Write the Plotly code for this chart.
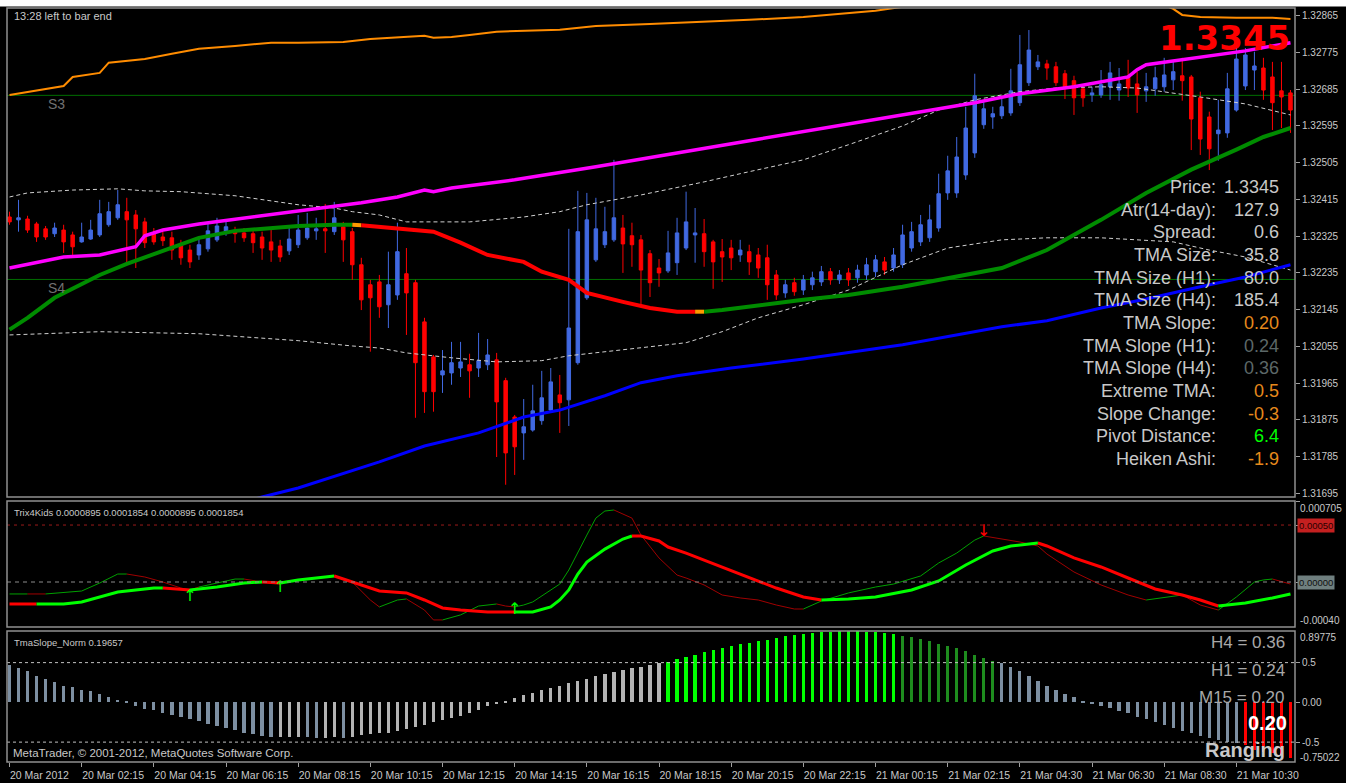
import plotly.graph_objects as go

# ---------------- data ----------------
bars = list(range(143))

opens = [1.32372,1.32365,1.32367,1.32355,1.32343,1.32331,1.32340,1.32328,1.32311,1.32318,
         1.32328,1.32353,1.32370,1.32385,1.32377,1.32360,1.32333,1.32323,1.32321,1.32304,
         1.32291,1.32279,1.32294,1.32316,1.32333,1.32338,1.32333,1.32331,1.32323,1.32311,
         1.32301,1.32289,1.32304,1.32321,1.32338,1.32343,1.32336,1.32348,1.32336,1.32255,
         1.32206,1.32213,1.32157,1.32181,1.32233,1.32211,1.32115,1.32029,1.31985,1.31990,
         1.32002,1.32010,1.32002,1.32010,1.32022,1.31971,1.31882,1.31843,1.31850,1.31873,
         1.31899,1.31936,1.31924,1.32015,1.32174,1.32267,1.32304,1.32316,1.32345,1.32326,
         1.32316,1.32282,1.32247,1.32240,1.32260,1.32296,1.32328,1.32331,1.32311,1.32287,
         1.32296,1.32279,1.32287,1.32279,1.32272,1.32230,1.32186,1.32211,1.32193,1.32206,
         1.32213,1.32238,1.32218,1.32235,1.32223,1.32230,1.32238,1.32262,1.32247,1.32255,
         1.32296,1.32311,1.32321,1.32345,1.32431,1.32431,1.32475,1.32529,1.32598,1.32617,
         1.32620,1.32627,1.32652,1.32701,1.32740,1.32747,1.32740,1.32723,1.32706,1.32686,
         1.32671,1.32671,1.32691,1.32683,1.32715,1.32698,1.32681,1.32686,1.32691,1.32708,
         1.32718,1.32715,1.32664,1.32617,1.32576,1.32578,1.32634,1.32693,1.32732,1.32737,
         1.32715,1.32681,1.32676]
highs = [1.32385,1.32414,1.32375,1.32360,1.32350,1.32358,1.32353,1.32336,1.32358,1.32365,
         1.32414,1.32409,1.32438,1.32419,1.32389,1.32370,1.32345,1.32336,1.32336,1.32316,
         1.32304,1.32321,1.32360,1.32370,1.32360,1.32348,1.32345,1.32343,1.32336,1.32340,
         1.32316,1.32348,1.32377,1.32382,1.32370,1.32404,1.32409,1.32360,1.32345,1.32272,
         1.32218,1.32230,1.32287,1.32358,1.32296,1.32218,1.32125,1.32034,1.32046,1.32066,
         1.32066,1.32037,1.32088,1.32073,1.32039,1.31978,1.31887,1.31926,1.31961,1.31995,
         1.32002,1.31985,1.32343,1.32436,1.32431,1.32419,1.32397,1.32512,1.32377,1.32358,
         1.32328,1.32291,1.32269,1.32338,1.32370,1.32434,1.32394,1.32367,1.32316,1.32318,
         1.32316,1.32316,1.32304,1.32296,1.32304,1.32242,1.32218,1.32223,1.32230,1.32238,
         1.32252,1.32247,1.32242,1.32247,1.32255,1.32272,1.32279,1.32274,1.32296,1.32353,
         1.32360,1.32377,1.32402,1.32478,1.32522,1.32568,1.32642,1.32723,1.32654,1.32642,
         1.32661,1.32735,1.32818,1.32830,1.32769,1.32757,1.32752,1.32732,1.32718,1.32696,
         1.32691,1.32732,1.32752,1.32737,1.32757,1.32728,1.32725,1.32740,1.32762,1.32757,
         1.32762,1.32720,1.32679,1.32630,1.32659,1.32725,1.32801,1.32786,1.32777,1.32762,
         1.32752,1.32752,1.32683]
lows = [1.32353,1.32336,1.32333,1.32311,1.32316,1.32323,1.32284,1.32279,1.32309,1.32316,
        1.32323,1.32348,1.32365,1.32255,1.32247,1.32296,1.32304,1.32301,1.32267,1.32255,
        1.32247,1.32267,1.32287,1.32311,1.32326,1.32309,1.32311,1.32284,1.32267,1.32262,
        1.32262,1.32279,1.32296,1.32316,1.32316,1.32284,1.32328,1.32262,1.32218,1.32144,
        1.32042,1.32125,1.32100,1.32169,1.32083,1.31880,1.31892,1.31895,1.31941,1.31961,
        1.31980,1.31929,1.31980,1.31997,1.31784,1.31716,1.31740,1.31777,1.31846,1.31863,
        1.31895,1.31843,1.31860,1.32010,1.32169,1.32262,1.32296,1.32311,1.32235,1.32250,
        1.32154,1.32176,1.32201,1.32235,1.32230,1.32291,1.32260,1.32250,1.32196,1.32213,
        1.32242,1.32262,1.32230,1.32223,1.32169,1.32169,1.32174,1.32179,1.32181,1.32193,
        1.32203,1.32206,1.32208,1.32203,1.32211,1.32218,1.32225,1.32230,1.32238,1.32247,
        1.32287,1.32301,1.32311,1.32336,1.32414,1.32419,1.32463,1.32517,1.32588,1.32588,
        1.32612,1.32620,1.32644,1.32693,1.32732,1.32708,1.32693,1.32661,1.32622,1.32642,
        1.32654,1.32664,1.32659,1.32657,1.32666,1.32627,1.32654,1.32669,1.32679,1.32683,
        1.32657,1.32536,1.32524,1.32487,1.32510,1.32566,1.32630,1.32683,1.32683,1.32659,
        1.32585,1.32590,1.32578]
closes = [1.32360,1.32370,1.32340,1.32323,1.32323,1.32345,1.32311,1.32299,1.32323,1.32340,
          1.32380,1.32385,1.32402,1.32365,1.32343,1.32309,1.32311,1.32314,1.32291,1.32272,
          1.32262,1.32304,1.32338,1.32350,1.32348,1.32331,1.32321,1.32309,1.32296,1.32291,
          1.32274,1.32318,1.32340,1.32345,1.32343,1.32338,1.32370,1.32316,1.32255,1.32169,
          1.32174,1.32152,1.32206,1.32287,1.32186,1.32015,1.31944,1.31944,1.31995,1.32015,
          1.32017,1.31995,1.32020,1.32034,1.31919,1.31794,1.31809,1.31858,1.31897,1.31929,
          1.31968,1.31917,1.32100,1.32336,1.32365,1.32343,1.32336,1.32370,1.32306,1.32304,
          1.32242,1.32211,1.32235,1.32284,1.32333,1.32360,1.32333,1.32287,1.32262,1.32274,
          1.32272,1.32291,1.32262,1.32247,1.32206,1.32181,1.32206,1.32189,1.32218,1.32223,
          1.32238,1.32218,1.32230,1.32218,1.32242,1.32255,1.32267,1.32242,1.32279,1.32328,
          1.32336,1.32353,1.32365,1.32429,1.32485,1.32519,1.32590,1.32669,1.32637,1.32625,
          1.32642,1.32681,1.32745,1.32781,1.32752,1.32737,1.32701,1.32691,1.32664,1.32664,
          1.32676,1.32696,1.32725,1.32698,1.32688,1.32671,1.32691,1.32713,1.32720,1.32728,
          1.32706,1.32612,1.32563,1.32539,1.32585,1.32686,1.32759,1.32769,1.32742,1.32683,
          1.32652,1.32666,1.32634]

x_tick_bars = [0, 8, 16, 24, 32, 40, 48, 56, 64, 72, 80, 88, 96, 104, 112, 120, 128, 136]
x_tick_labels = ["20 Mar 2012", "20 Mar 02:15", "20 Mar 04:15", "20 Mar 06:15", "20 Mar 08:15",
                 "20 Mar 10:15", "20 Mar 12:15", "20 Mar 14:15", "20 Mar 16:15", "20 Mar 18:15",
                 "20 Mar 20:15", "20 Mar 22:15", "21 Mar 00:15", "21 Mar 02:15", "21 Mar 04:30",
                 "21 Mar 06:30", "21 Mar 08:30", "21 Mar 10:30"]
price_ticks = [1.32865, 1.32775, 1.32685, 1.32595, 1.32505, 1.32415, 1.32325,
               1.32235, 1.32145, 1.32055, 1.31965, 1.31875, 1.31785, 1.31695]

pivot_names = ["S3", "S4"]
pivot_levels = [1.32670, 1.32219]

orange_bars = [0,4,6,7,10,11,15,18,21,25, 29,32,37,40,44,46,47,49,51,54,
               61,65,71,77,82,88,93,96,99,104, 110,121,126,129,130,132,136,140,142]
orange_vals = [1.32671,1.32686,1.32693,1.32715,1.32725,1.32750,1.32759,1.32772,1.32784,1.32791,
               1.32799,1.32799,1.32801,1.32808,1.32813,1.32816,1.32811,1.32813,1.32818,1.32826,
               1.32831,1.32840,1.32845,1.32850,1.32855,1.32862,1.32872,1.32877,1.32887,1.32902,
               1.32914,1.32919,1.32909,1.32882,1.32867,1.32862,1.32860,1.32860,1.32857]

magenta_bars = [0,6,10,14,15,17,21,28,31,36, 39,43,46,47,49,56,65,82,99,107,
                112,118,124,125,126,132,137,142]
magenta_vals = [1.32247,1.32274,1.32279,1.32299,1.32326,1.32340,1.32355,1.32375,1.32382,1.32397,
                1.32407,1.32421,1.32438,1.32434,1.32443,1.32463,1.32495,1.32559,1.32622,1.32652,
                1.32674,1.32691,1.32715,1.32733,1.32745,1.32764,1.32779,1.32799]

tma_bars = [0,2,5,10,13,18,21,25,29,32, 36,38,39,41,47,50,53,57,59,62,
            64,68,71,74,76,77,79,88,93,99, 104,110,115,121,126,131,136,139,142]
tma_vals = [1.32096,1.32125,1.32174,1.32230,1.32257,1.32296,1.32321,1.32338,1.32345,1.32350,
            1.32353,1.32353,1.32352,1.32348,1.32336,1.32309,1.32279,1.32262,1.32238,1.32218,
            1.32186,1.32164,1.32149,1.32140,1.32140,1.32140,1.32144,1.32169,1.32181,1.32201,
            1.32223,1.32247,1.32291,1.32365,1.32431,1.32488,1.32537,1.32568,1.32590]
# trend of the TMA on each segment: 1 up, 0 flat, -1 down
tma_state = [1,1,1,1,1,1,1,1,1,1, 1,0,-1,-1,-1,-1,-1,-1,-1,-1,
             -1,-1,-1,-1,0,1,1,1,1,1, 1,1,1,1,1,1,1,1,1]

band_up_bars = [0,2,7,12,15,19,25,29,32,36, 38,41,44,51,57,61,64,70,77,82,
                88,93,99,103,107,112,116,121,125,132, 137,142]
band_up_vals = [1.32421,1.32431,1.32438,1.32441,1.32436,1.32434,1.32424,1.32412,1.32402,1.32394,
                1.32385,1.32377,1.32360,1.32360,1.32372,1.32385,1.32402,1.32426,1.32458,1.32483,
                1.32512,1.32549,1.32595,1.32634,1.32659,1.32679,1.32688,1.32691,1.32688,1.32666,
                1.32649,1.32622]
band_dn_bars = [0,10,21,32,38,41,44,49,54,59, 62,68,73,75,79,83,88,93,99,104,
                110,115,121,129,133,137,142]
band_dn_vals = [1.32083,1.32091,1.32086,1.32069,1.32056,1.32051,1.32039,1.32027,1.32017,1.32020,
                1.32032,1.32046,1.32059,1.32064,1.32091,1.32125,1.32157,1.32193,1.32255,1.32296,
                1.32316,1.32321,1.32321,1.32311,1.32291,1.32274,1.32242]

blue_bars = [20,27,28,32,37,41,46,52,57,61, 66,70,74,80,88,99,110,115,121,126,
             132,137,142]
blue_vals = [1.31637,1.31679,1.31686,1.31708,1.31743,1.31772,1.31811,1.31843,1.31882,1.31899,
             1.31934,1.31966,1.31983,1.32002,1.32024,1.32059,1.32103,1.32118,1.32149,1.32171,
             1.32201,1.32225,1.32255]

# Trix4Kids
trix_thin_bars = [0,2,4,8,10,12,13,15,17,19, 20,21,25,26,28,30,32,35,36,38,
                  40,41,43,44,46,47,48,50,52,54, 55,56,57,58,60,61,62,63,64,65,
                  66,67,69,70,72,74,75,77,79,81, 83,85,87,88,90,93,96,98,100,101,
                  103,105,107,108,110,112,114,115,116,118, 121,124,126,130,132,134,136,138,139,140,
                  142]
trix_thin_vals = [-0.000105,-0.000105,-0.000105,-0.000079,-0.000009,0.000070,0.000070,0.000044,0.0,-0.000053,
                  -0.000070,-0.000044,0.000026,0.000026,0.0,0.0,0.000018,0.000044,0.000053,0.0,
                  -0.000158,-0.000219,-0.000158,-0.000149,-0.000246,-0.000333,-0.000333,-0.000289,-0.000211,-0.000193,
                  -0.000211,-0.000219,-0.000202,-0.000175,-0.000070,-0.000018,0.000105,0.000263,0.000412,0.000561,
                  0.000623,0.000632,0.000561,0.000412,0.000211,0.000061,0.000035,-0.000026,-0.000114,-0.000140,
                  -0.000158,-0.000202,-0.000237,-0.000237,-0.000167,-0.000096,-0.000044,-0.000018,0.000026,0.000053,
                  0.000167,0.000254,0.000368,0.000404,0.000377,0.000351,0.000316,0.000246,0.000193,0.000088,
                  -0.000026,-0.000114,-0.000158,-0.000114,-0.000202,-0.000246,-0.000132,0.0,0.000018,0.000026,
                  -0.000018]
trix_thin_state = [1,-1,1,1,1,1,-1,-1,-1,-1, -1,1,1,-1,-1,1,1,1,-1,-1,
                   -1,1,1,-1,-1,-1,1,1,1,-1, -1,1,1,1,1,1,1,1,1,1,
                   1,-1,-1,-1,-1,-1,-1,-1,-1,-1, -1,-1,-1,1,1,1,1,1,1,1,
                   1,1,1,-1,-1,-1,-1,-1,-1,-1, -1,-1,1,-1,-1,1,1,1,1,-1,
                   -1]
trix_thick_bars = [0,3,6,8,10,12,16,17,19,20, 23,26,28,30,32,35,36,38,41,44,
                   46,48,50,53,56,58,60,61,62,63, 64,66,68,69,70,72,73,75,79,82,
                   85,88,90,93,96,100,103,106,109,111, 114,115,118,121,124,126,127,130,132,134,
                   137,140,142]
trix_thick_vals = [-0.000193,-0.000193,-0.000193,-0.000175,-0.000132,-0.000088,-0.000053,-0.000053,-0.000061,-0.000070,
                   -0.000044,-0.000009,0.0,-0.000009,0.000018,0.000044,0.000053,0.0,-0.000079,-0.000096,
                   -0.000158,-0.000228,-0.000246,-0.000263,-0.000263,-0.000263,-0.000219,-0.000158,-0.000070,0.000070,
                   0.000175,0.000289,0.000377,0.000404,0.000404,0.000360,0.000307,0.000254,0.000132,0.000044,
                   -0.000053,-0.000132,-0.000158,-0.000149,-0.000132,-0.000070,0.000009,0.000149,0.000272,0.000316,
                   0.000342,0.000316,0.000211,0.000132,0.000035,-0.000026,-0.000061,-0.000114,-0.000158,-0.000211,
                   -0.000184,-0.000140,-0.000105]
trix_thick_state = [-1,1,1,1,1,1,1,-1,-1,1, 1,1,-1,1,1,1,-1,-1,-1,-1,
                    -1,-1,-1,-1,1,1,1,1,1,1, 1,1,1,-1,-1,-1,-1,-1,-1,-1,
                    -1,-1,1,1,1,1,1,1,1,1, -1,-1,-1,-1,-1,-1,-1,-1,-1,1,
                    1,1,1]
trix_levels = [0.0005, 0.0]
buy_arrow_bars = [20, 30, 56]
buy_arrow_vals = [-0.000132, -0.000053, -0.000246]
sell_arrow_bars = [108]
sell_arrow_vals = [0.000439]

# TmaSlope_Norm histogram
slope_vals = [0.475,0.43,0.39,0.33,0.29,0.25,0.20,0.19,0.16,0.14,
              0.10,0.07,0.03,0.01,-0.05,-0.08,-0.10,-0.13,-0.16,-0.18,
              -0.21,-0.24,-0.27,-0.30,-0.32,-0.35,-0.38,-0.40,-0.42,-0.44,
              -0.438,-0.436,-0.434,-0.44,-0.446,-0.443,-0.44,-0.447,-0.43,-0.41,
              -0.40,-0.39,-0.38,-0.36,-0.34,-0.31,-0.28,-0.25,-0.22,-0.20,
              -0.17,-0.13,-0.09,-0.05,-0.02,0.02,0.05,0.09,0.12,0.15,
              0.18,0.21,0.24,0.27,0.30,0.33,0.36,0.38,0.41,0.43,
              0.45,0.47,0.49,0.51,0.54,0.57,0.60,0.63,0.66,0.68,
              0.71,0.73,0.75,0.77,0.79,0.81,0.83,0.85,0.86,0.87,
              0.88,0.89,0.895,0.897,0.895,0.89,0.88,0.87,0.855,0.84,
              0.82,0.80,0.77,0.74,0.71,0.68,0.64,0.60,0.56,0.52,
              0.49,0.45,0.39,0.33,0.275,0.21,0.16,0.11,0.07,0.02,
              -0.01,-0.05,-0.07,-0.11,-0.14,-0.18,-0.21,-0.25,-0.29,-0.32,
              -0.36,-0.39,-0.42,-0.45,-0.47,-0.50,-0.51]
# bars of the strong-trend phase that are already weakening (dark green)
slope_weak_from = 99
ranging_bars = [137, 138, 139, 140, 141, 142]
ranging_vals = [-0.54, -0.60, -0.62, -0.64, -0.66, -0.70]
slope_levels = [0.5, -0.5]

info_labels = ["Price:", "Atr(14-day):", "Spread:", "TMA Size:", "TMA Size (H1):", "TMA Size (H4):",
               "TMA Slope:", "TMA Slope (H1):", "TMA Slope (H4):", "Extreme TMA:", "Slope Change:",
               "Pivot Distance:", "Heiken Ashi:"]
info_values = ["1.3345", "127.9", "0.6", "35.8", "80.0", "185.4", "0.20", "0.24", "0.36",
               "0.5", "-0.3", "6.4", "-1.9"]

# ---------------- layout helpers ----------------
W, H = 1346, 783
ML, MR, MT, MB = 7, 51, 8, 21
PW, PH = W - ML - MR, H - MT - MB
def fx(px):
    return (px - ML) / PW
def fy(py):
    return (H - MB - py) / PH

FONT = "Liberation Sans, Arial, sans-serif"
GREY = "#c8c8c8"

fig = go.Figure()

# candles
fig.add_trace(go.Candlestick(
    x=bars, open=opens, high=highs, low=lows, close=closes,
    increasing=dict(line=dict(color="#4169e1", width=1), fillcolor="#4169e1"),
    decreasing=dict(line=dict(color="#ff0000", width=1), fillcolor="#ff0000"),
    whiskerwidth=0, hoverinfo="skip", showlegend=False, xaxis="x", yaxis="y"))

def line(xs, ys, color, width, yaxis="y", dash=None):
    fig.add_trace(go.Scatter(x=xs, y=ys, mode="lines",
                             line=dict(color=color, width=width, dash=dash),
                             hoverinfo="skip", showlegend=False, xaxis="x", yaxis=yaxis))

def multicolor(xs, ys, states, cmap, width, yaxis):
    nseg = len(xs) - 1
    s = 0
    for k in range(1, nseg + 1):
        if k == nseg or states[k] != states[s]:
            line(xs[s:k + 1], ys[s:k + 1], cmap[states[s]], width, yaxis)
            s = k

line(band_up_bars, band_up_vals, "#d0d0d0", 1, dash="4px,3px")
line(band_dn_bars, band_dn_vals, "#d0d0d0", 1, dash="4px,3px")
line(orange_bars, orange_vals, "#ff8c00", 2)
line(blue_bars, blue_vals, "#0000ff", 3)
line(magenta_bars, magenta_vals, "#ff00ff", 3.5)
multicolor(tma_bars, tma_vals, tma_state, {1: "#008c00", 0: "#ff9900", -1: "#ff0000"}, 4, "y")

# Trix4Kids
multicolor(trix_thin_bars, trix_thin_vals, trix_thin_state, {1: "#00a000", -1: "#a00000"}, 1, "y2")
multicolor(trix_thick_bars, trix_thick_vals, trix_thick_state, {1: "#00ff00", -1: "#ff0000"}, 3, "y2")
fig.add_trace(go.Scatter(x=buy_arrow_bars, y=buy_arrow_vals, mode="text", text=["↑"] * len(buy_arrow_bars),
                         textfont=dict(color="#00ff00", size=16, family="DejaVu Sans"),
                         hoverinfo="skip", showlegend=False, xaxis="x", yaxis="y2"))
fig.add_trace(go.Scatter(x=sell_arrow_bars, y=sell_arrow_vals, mode="text", text=["↓"] * len(sell_arrow_bars),
                         textfont=dict(color="#ff0000", size=16, family="DejaVu Sans"),
                         hoverinfo="skip", showlegend=False, xaxis="x", yaxis="y2"))

# TmaSlope histogram colours
hist_colors = []
for i, v in enumerate(slope_vals):
    rising = i > 0 and v > slope_vals[i - 1]
    if v > 0.5:
        hist_colors.append("#00ff00" if i < slope_weak_from else "#1e8c1e")
    else:
        hist_colors.append("#b4b4b4" if rising else "#7d8fa2")
fig.add_trace(go.Bar(x=bars[:len(slope_vals)], y=slope_vals, width=0.36, marker=dict(color=hist_colors, line=dict(width=0)),
                     hoverinfo="skip", showlegend=False, xaxis="x", yaxis="y3"))
fig.add_trace(go.Bar(x=ranging_bars, y=ranging_vals, width=0.36, marker=dict(color="#ff0000", line=dict(width=0)),
                     hoverinfo="skip", showlegend=False, xaxis="x", yaxis="y3"))

# ---------------- shapes ----------------
shapes = []
# white strip on top
shapes.append(dict(type="rect", xref="paper", yref="paper", x0=fx(0), x1=fx(W), y0=fy(6.5), y1=fy(-1),
                   fillcolor="#ffffff", line=dict(width=0), layer="above"))
for name, lvl in zip(pivot_names, pivot_levels):
    shapes.append(dict(type="line", xref="x domain", yref="y", x0=0, x1=1, y0=lvl, y1=lvl,
                       line=dict(color="#006e00", width=1), layer="below"))
shapes.append(dict(type="line", xref="x domain", yref="y2", x0=0, x1=1, y0=trix_levels[0], y1=trix_levels[0],
                   line=dict(color="#9a1a1a", width=1, dash="3px,4px")))
shapes.append(dict(type="line", xref="x domain", yref="y2", x0=0, x1=1, y0=trix_levels[1], y1=trix_levels[1],
                   line=dict(color="#8c8c8c", width=1, dash="4px,4px")))
for lvl in slope_levels:
    shapes.append(dict(type="line", xref="x domain", yref="y3", x0=0, x1=1, y0=lvl, y1=lvl,
                       line=dict(color="#c0c0c0", width=1, dash="3px,3px")))
for ax in ["y", "y2", "y3"]:
    shapes.append(dict(type="rect", xref="x domain", yref=ax + " domain", x0=0, x1=1, y0=0, y1=1,
                       line=dict(color="#909090", width=1.5)))

# ---------------- annotations ----------------
ann = []
def text(t, px, py, size=11, color=GREY, xanchor="left", bold=False, family=FONT, bg=None):
    d = dict(text=("<b>%s</b>" % t) if bold else t, xref="paper", yref="paper", x=fx(px), y=fy(py),
             xanchor=xanchor, yanchor="middle", showarrow=False,
             font=dict(size=size, color=color, family=family))
    if bg:
        d.update(bgcolor=bg, borderpad=1)
    ann.append(d)

text("13:28 left to bar end", 12, 16, size=11)
text("1.3345", 1292, 38, size=34, color="#ff0000", xanchor="right", bold=True, family="DejaVu Sans")
for name, lvl in zip(pivot_names, pivot_levels):
    ann.append(dict(text=name, xref="x", yref="y", x=4.0, y=lvl, yshift=-9, xanchor="left", yanchor="middle",
                    showarrow=False, font=dict(size=14, color="#707070", family=FONT)))

value_colors = [GREY, GREY, GREY, GREY, GREY, GREY, "#e6891c", "#5c6868", "#5c6868",
                "#e6891c", "#e6891c", "#00ff00", "#e6891c"]
for k, (lab, val) in enumerate(zip(info_labels, info_values)):
    yy = 187 + k * 22.67
    text(lab, 1218, yy, size=18, color=GREY, xanchor="right")
    text(val, 1281, yy, size=18, color=value_colors[k], xanchor="right")

text("Trix4Kids 0.0000895 0.0001854 0.0000895 0.0001854", 12, 512, size=9.5)
text("TmaSlope_Norm 0.19657", 12, 642, size=9.5)
text("MetaTrader, © 2001-2012, MetaQuotes Software Corp.", 11, 753, size=11.5)
text("H4 = 0.36", 1287, 642, size=17, color="#a8a8a8", xanchor="right")
text("H1 = 0.24", 1287, 670, size=17, color="#a8a8a8", xanchor="right")
text("M15 = 0.20", 1287, 697, size=17, color="#a8a8a8", xanchor="right")
text("0.20", 1267, 723, size=20, color="#ffffff", xanchor="center", bold=True)
text("Ranging", 1287, 750, size=20, color=GREY, xanchor="right", bold=True)

# right-axis labels for sub-windows
text("0.000705", 1298, 508, size=10)
text("0.00050", 1297, 525, size=9.5, color="#2a0000", bg="#c42020")
text("0.00000", 1297, 582, size=9.5, color="#101010", bg="#6f7f7f")
text("-0.00040", 1298, 620, size=10)
text("0.89775", 1298, 637, size=10)
text("-0.75022", 1298, 757, size=10)

fig.update_layout(
    width=W, height=H, margin=dict(l=ML, r=MR, t=MT, b=MB, autoexpand=False),
    paper_bgcolor="#000000", plot_bgcolor="#000000",
    showlegend=False, boxgap=0.45, bargap=0,
    shapes=shapes, annotations=ann,
    xaxis=dict(domain=[0, 1], anchor="y3", range=[-0.277, 142.5], showgrid=False, zeroline=False,
               rangeslider=dict(visible=False), tickvals=x_tick_bars, ticktext=x_tick_labels,
               ticks="outside", ticklen=4, tickcolor="#a0a0a0", ticklabelposition="outside right",
               ticklabelstandoff=3, automargin=False,
               tickfont=dict(size=10.5, color=GREY, family=FONT), fixedrange=True),
    yaxis=dict(domain=[fy(497), 1], side="right", anchor="x", range=[1.31686, 1.32884],
               tickvals=price_ticks, ticktext=["%.5f" % p for p in price_ticks], automargin=False,
               ticks="outside", ticklen=4, tickcolor="#a0a0a0", showgrid=False, zeroline=False,
               tickfont=dict(size=10, color=GREY, family=FONT), fixedrange=True),
    yaxis2=dict(domain=[fy(627), fy(501)], side="right", anchor="x", range=[-0.000395, 0.000711],
                tickvals=[0.000705, 0.0005, 0.0, -0.0004], ticktext=["", "", "", ""], automargin=False,
                ticks="outside", ticklen=4, tickcolor="#a0a0a0", showgrid=False, zeroline=False,
                fixedrange=True),
    yaxis3=dict(domain=[0, fy(631)], side="right", anchor="x", range=[-0.7502, 0.8977],
                tickvals=[0.5, 0.0, -0.5], ticktext=["0.5", "0.00", "-0.5"], automargin=False,
                ticks="outside", ticklen=4, tickcolor="#a0a0a0", showgrid=False, zeroline=False,
                tickfont=dict(size=10, color=GREY, family=FONT), fixedrange=True),
)

fig.write_html("out.html", config={"displayModeBar": False},
               post_script="document.body.style.margin='0';document.body.style.overflow='hidden';")
